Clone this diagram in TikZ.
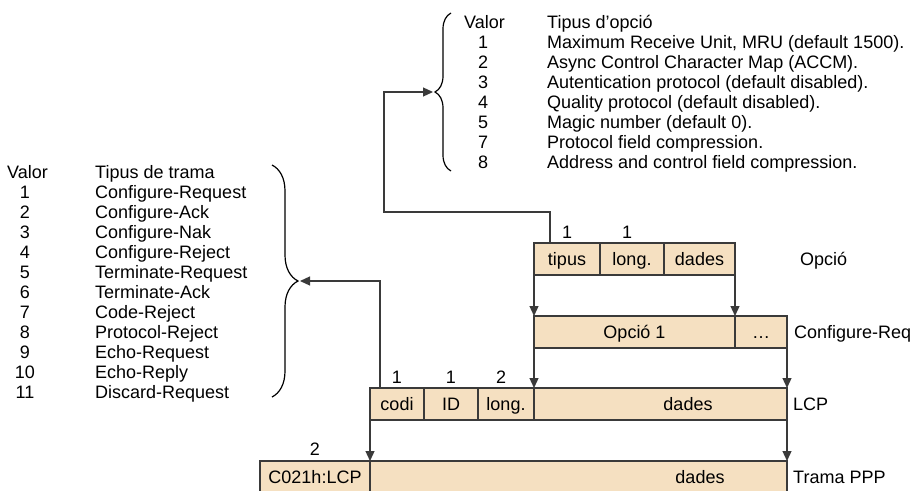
\documentclass[tikz,border=0pt]{standalone}
\usepackage{fontspec}
\setmainfont{Liberation Sans}
\usetikzlibrary{positioning,arrows.meta,calc,decorations.pathreplacing}
\definecolor{beixCamp}{HTML}{F5E0C1}
\definecolor{grisLinia}{HTML}{3A3A3A}
\tikzset{
  camp/.style={draw=grisLinia, fill=beixCamp, line width=1.2pt, minimum height=32pt,
    inner sep=0pt, outer sep=0pt, text height=13pt, text depth=0pt},
  fletxa/.style={-{Triangle[length=10pt,width=9pt]}, grisLinia, line width=1.2pt},
  clau/.style={decorate, decoration={brace, amplitude=#1}, line width=1.2pt},
  etiq/.style={anchor=base west, inner sep=0pt},
  xifra/.style={anchor=base, inner sep=0pt},
}

\begin{document}
\begin{tikzpicture}[x=1pt, y=-1pt, font=\fontsize{18}{20}\selectfont]
  \useasboundingbox (0,0) rectangle (913,490);
  \clip (0,0) rectangle (913,490);

  % Opcio
  \node[camp, minimum width=66pt, anchor=north west] (tipus) at (534,243) {tipus};
  \node[camp, minimum width=64pt, right=0pt of tipus] (olong) {long.};
  \node[camp, minimum width=71pt, right=0pt of olong] (odades) {dades};
  \node[xifra] (nTipus) at ($(tipus.north)+(0,-5)$) {1};
  \node[xifra] (nOlong) at ($(olong.north)+(-5,-5)$) {1};
  \node[etiq] (lOpcio) at (800,265.5) {Opció};

  % Configure-Request
  \node[camp, minimum width=201pt, anchor=north west] (opc1) at (534,316) {Opció 1};
  \node[camp, minimum width=52pt, right=0pt of opc1] (punts) {\dots};
  \node[etiq] (lConf) at (794,338.5) {Configure-Req};

  % LCP
  \node[camp, minimum width=54pt, anchor=north west] (codi) at (370,388) {codi};
  \node[camp, minimum width=54pt, right=0pt of codi] (id) {ID};
  \node[camp, minimum width=56pt, right=0pt of id] (llong) {long.};
  \node[camp, minimum width=253pt, right=0pt of llong] (ldades) {};
  \node[xifra] (tLcp) at (688,410.5) {dades};
  \node[xifra] (nCodi) at ($(codi.north)+(0,-5)$) {1};
  \node[xifra] (nId) at ($(id.north)+(0,-5)$) {1};
  \node[xifra] (nLlong) at ($(llong.north)+(-5,-5)$) {2};
  \node[etiq] (lLcp) at (793,410.5) {LCP};

  % Trama PPP
  \node[camp, minimum width=110pt, anchor=north west] (prot) at (260,461) {C021h:LCP};
  \node[camp, minimum width=417pt, right=0pt of prot] (tdades) {};
  \node[xifra] (tPpp) at (700,483.5) {dades};
  \node[xifra] (nProt) at ($(prot.north)+(0,-6)$) {2};
  \node[etiq] (lPpp) at (793,483.5) {Trama PPP};

  % Tipus de trama
  \node[etiq] (valTr) at (7,178.5) {Valor};
  \node[etiq] (capTr) at (95,178.5) {Tipus de trama};
  \foreach \v/\t [count=\i] in {1/Configure-Request, 2/Configure-Ack, 3/Configure-Nak,
      4/Configure-Reject, 5/Terminate-Request, 6/Terminate-Ack, 7/Code-Reject,
      8/Protocol-Reject, 9/Echo-Request, 10/Echo-Reply, 11/Discard-Request} {
    \node[xifra] (vTr\i) at (25,178.5+20*\i) {\v};
    \node[etiq] (tTr\i) at (95,178.5+20*\i) {\t};
  }

  % Tipus d'opcio
  \node[etiq] (valOp) at (464,28.3) {Valor};
  \node[etiq] (capOp) at (547,28.3) {Tipus d’opció};
  \foreach \v/\t [count=\i] in {1/{Maximum Receive Unit, MRU (default 1500).},
      2/{Async Control Character Map (ACCM).}, 3/{Autentication protocol (default disabled).},
      4/{Quality protocol (default disabled).}, 5/{Magic number (default 0).},
      7/{Protocol field compression.}, 8/{Address and control field compression.}} {
    \node[xifra] (vOp\i) at (483,28.3+20*\i) {\v};
    \node[etiq] (tOp\i) at (547,28.3+20*\i) {\t};
  }

  % claus
  \draw[clau=16pt] (451,171) -- (451,13);
  \draw[clau=26pt] (272,165) -- (272,397);
  \coordinate (puntaOp) at (433,92);
  \coordinate (puntaTr) at (300,281);

  % fletxes
  \draw[fletxa] ($(tipus.north west)+(16,0)$) -- ++(0,-31) -| ($(puntaOp)+(-49,0)$) -- (puntaOp);
  \draw[fletxa] ($(codi.north west)+(10,0)$) |- (puntaTr);
  \draw[fletxa] (tipus.south west) -- (opc1.north west);
  \draw[fletxa] (odades.south east) -- (opc1.north east);
  \draw[fletxa] (opc1.south west) -- (ldades.north west);
  \draw[fletxa] (punts.south east) -- (ldades.north east);
  \draw[fletxa] (codi.south west) -- (tdades.north west);
  \draw[fletxa] (ldades.south east) -- (tdades.north east);
\end{tikzpicture}
\end{document}
